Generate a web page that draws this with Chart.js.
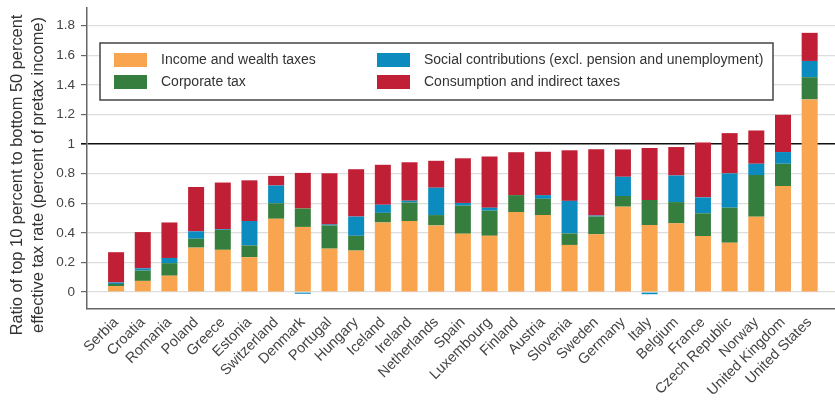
<!DOCTYPE html>
<html>
<head>
<meta charset="utf-8">
<script src="https://cdn.jsdelivr.net/npm/chart.js@4/dist/chart.umd.min.js"></script>
<style>
  html, body { margin: 0; padding: 0; background: #fff; }
  #wrap { width: 835px; height: 404px; }
</style>
</head>
<body>
<div id="wrap"><canvas id="c" width="835" height="404"></canvas></div>
<script>
const countries = ["Serbia","Croatia","Romania","Poland","Greece","Estonia","Switzerland","Denmark","Portugal","Hungary","Iceland","Ireland","Netherlands","Spain","Luxembourg","Finland","Austria","Slovenia","Sweden","Germany","Italy","Belgium","France","Czech Republic","Norway","United Kingdom","United States"];
const incomeWealth = [0.04,0.075,0.11,0.30,0.285,0.235,0.495,0.44,0.293,0.28,0.47,0.48,0.45,0.394,0.38,0.54,0.52,0.318,0.39,0.577,0.453,0.464,0.378,0.333,0.509,0.716,1.302];
const corporate = [0.014,0.07,0.085,0.06,0.135,0.08,0.105,0.125,0.157,0.10,0.065,0.125,0.07,0.19,0.17,0.115,0.11,0.078,0.12,0.072,0.169,0.144,0.154,0.237,0.282,0.151,0.15];
const social = [0.01,0.015,0.035,0.05,0.005,0.165,0.12,-0.012,0.007,0.13,0.055,0.012,0.185,0.018,0.02,0,0.025,0.22,0.007,0.13,-0.015,0.18,0.108,0.232,0.076,0.079,0.11];
const consumption = [0.205,0.245,0.24,0.30,0.315,0.275,0.065,0.24,0.345,0.32,0.27,0.26,0.182,0.302,0.346,0.29,0.293,0.342,0.448,0.185,0.351,0.192,0.371,0.272,0.225,0.252,0.19];
const yTicks = [0,0.2,0.4,0.6,0.8,1,1.2,1.4,1.6,1.8];
const seriesNames = ["Income and wealth taxes","Corporate tax","Social contributions (excl. pension and unemployment)","Consumption and indirect taxes"];
const seriesColors = ["#F9A54F","#367E3D","#0C8BBF","#C11F35"];
const yTitle = ["Ratio of top 10 percent to bottom 50 percent","effective tax rate (percent of pretax income)"];

const FONT = "'Liberation Sans', Arial, sans-serif";
const seriesValues = [incomeWealth, corporate, social, consumption];

const datasets = seriesValues.map((vals, s) => ({
  label: seriesNames[s],
  data: vals.map((v, i) => ({ x: i, y: v })),
  backgroundColor: seriesColors[s],
  borderWidth: 0,
  barPercentage: 0.6,
  categoryPercentage: 1.0
}));

const overlay = {
  id: 'overlay',
  beforeDatasetsDraw(chart) {
    const ctx = chart.ctx;
    ctx.save();
    const bx = 100, by = 43, bw = 673, bh = 57;
    ctx.fillStyle = '#fff';
    ctx.fillRect(bx, by, bw, bh);
    ctx.strokeStyle = '#444';
    ctx.lineWidth = 1.5;
    ctx.strokeRect(bx, by, bw, bh);
    const pos = [[114,53],[114,75],[377,53],[377,75]];
    ctx.font = '14px ' + FONT;
    ctx.textBaseline = 'middle';
    ctx.textAlign = 'left';
    for (let s = 0; s < 4; s++) {
      const [x, y] = pos[s];
      ctx.fillStyle = seriesColors[s];
      ctx.fillRect(x, y, 33, 14);
      ctx.fillStyle = '#333';
      ctx.fillText(seriesNames[s], x + 47, y + 7.5);
    }
    ctx.restore();
  },
  afterDraw(chart) {
    const ctx = chart.ctx;
    ctx.save();
    ctx.font = '16.4px ' + FONT;
    ctx.fillStyle = '#333';
    ctx.textAlign = 'center';
    ctx.textBaseline = 'middle';
    const xs = [17, 38.5];
    for (let l = 0; l < 2; l++) {
      ctx.save();
      ctx.translate(xs[l], 175);
      ctx.rotate(-Math.PI / 2);
      ctx.fillText(yTitle[l], 0, 0);
      ctx.restore();
    }
    ctx.restore();
  }
};

new Chart(document.getElementById('c'), {
  type: 'bar',
  data: { datasets },
  options: {
    responsive: false,
    animation: false,
    layout: { padding: { top: 8, right: 0, left: 0, bottom: 0 } },
    plugins: { legend: { display: false }, tooltip: { enabled: false } },
    scales: {
      x: {
        type: 'linear',
        stacked: true,
        offset: false,
        min: -1.09,
        max: 26.95,
        grid: { display: false, drawTicks: false, offset: false },
        border: { display: true, color: '#666', width: 1.5 },
        afterBuildTicks: (axis) => { axis.ticks = countries.map((_, i) => ({ value: i })); },
        afterFit: (scale) => { scale.height = 95; scale.paddingLeft = 0; scale.paddingRight = 0; },
        ticks: {
          autoSkip: false,
          minRotation: 45,
          maxRotation: 45,
          padding: 5,
          color: '#444',
          font: { family: FONT, size: 14.5 },
          callback: (v) => countries[v] ?? ''
        }
      },
      y: {
        stacked: true,
        min: -0.115,
        max: 1.92,
        afterBuildTicks: (axis) => { axis.ticks = yTicks.map(v => ({ value: v })); },
        afterFit: (scale) => { scale.width = 87; scale.paddingTop = 0; scale.paddingBottom = 0; },
        grid: {
          color: (c) => (c.tick && Math.abs(c.tick.value - 1) < 1e-9) ? '#111' : '#dddddd',
          lineWidth: (c) => (c.tick && Math.abs(c.tick.value - 1) < 1e-9) ? 1.6 : 1.2,
          tickColor: (c) => (c.tick && Math.abs(c.tick.value - 1) < 1e-9) ? '#111' : '#666',
          tickLength: 6
        },
        border: { display: true, color: '#666', width: 1.5 },
        ticks: {
          padding: 6,
          color: '#444',
          font: { family: FONT, size: 13.5 },
          callback: (v) => String(+Number(v).toFixed(1))
        }
      }
    }
  },
  plugins: [overlay]
});
</script>
</body>
</html>
